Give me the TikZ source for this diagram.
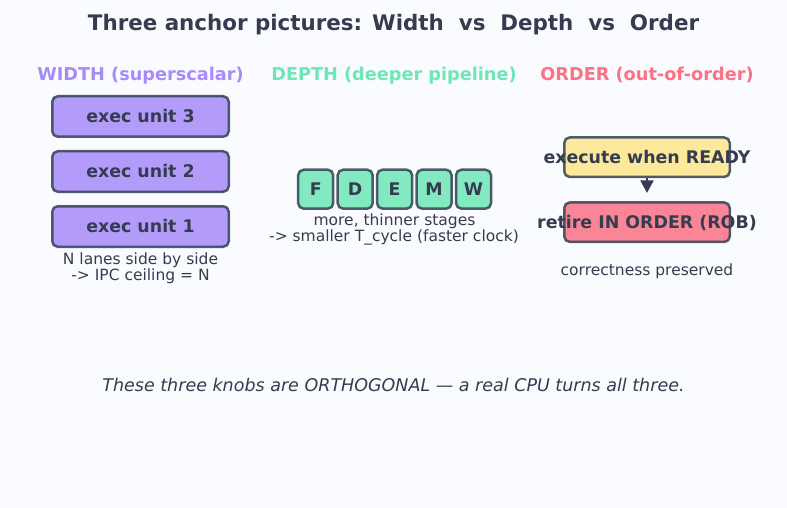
\documentclass[tikz,border=0pt]{standalone}
\usepackage{fontspec}
\setmainfont{DejaVu Sans}
\usetikzlibrary{arrows.meta}

\definecolor{bgc}{HTML}{FAFBFE}
\definecolor{ink}{HTML}{353C4F}
\definecolor{edge}{HTML}{334155}
\definecolor{widthc}{HTML}{A78BFA}
\definecolor{depthc}{HTML}{6EE7B7}
\definecolor{orderc}{HTML}{FB7185}
\definecolor{readyc}{HTML}{FDE68A}

\tikzset{
  x=1pt, y=-1pt,
  % node centre sits at the middle of the capital letters
  capmid/.style={inner sep=0pt, text depth=0pt},
  title/.style={capmid, text height=15.6pt, text=ink, font=\fontsize{21.4}{24}\selectfont\bfseries},
  header/.style={capmid, text height=12.9pt, font=\fontsize{17.7}{20}\selectfont\bfseries},
  caption/.style={capmid, text height=11.3pt, text=ink, font=\fontsize{15.5}{18}\selectfont},
  footer/.style={capmid, text height=12.75pt, text=ink, font=\fontsize{17.5}{20}\selectfont\itshape},
  unitbox/.style={draw=edge, draw opacity=0.85, fill opacity=0.85, line width=2.5pt,
    rounded corners=5.5pt, inner sep=0pt},
  boxlabel/.style={capmid, text height=12.7pt, text=ink, font=\fontsize{17.4}{20}\selectfont\bfseries},
  flowarrow/.style={draw=ink, line width=2pt, -{Triangle[length=12.5pt, width=13pt]}}
}

\begin{document}
\begin{tikzpicture}
  \fill[bgc] (0,0) rectangle (787,508);
  \useasboundingbox (0,0) rectangle (787,508);

  \node[title] (ttl) at (393.5,23) {Three anchor pictures: Width\ \ vs\ \ Depth\ \ vs\ \ Order};

  % column headings
  \node[header, text=widthc] (hw) at (140.5,73.7) {WIDTH (superscalar)};
  \node[header, text=depthc] (hd) at (394,73.7) {DEPTH (deeper pipeline)};
  \node[header, text=orderc] (ho) at (647,73.7) {ORDER (out-of-order)};

  % width: parallel execution units
  \foreach \n/\yc in {3/116.5, 2/171.5, 1/226.5} {
    \node[unitbox, fill=widthc, minimum width=176.5pt, minimum height=40.5pt] (eu\n) at (140.5,\yc) {};
    \node[boxlabel] (eul\n) at (eu\n) {exec unit \n};
  }
  \node[caption] (wc1) at (140.5,258.5) {N lanes side by side};
  \node[caption] (wc2) at (140.5,275.3) {-> IPC ceiling = N};

  % depth: short pipeline stages
  \foreach \s/\xc in {F/315.7, D/355.2, E/394.6, M/434.1, W/473.5} {
    \node[unitbox, fill=depthc, minimum width=35pt, minimum height=39pt] (st\s) at (\xc,189.2) {};
    \node[boxlabel] (stl\s) at (st\s) {\s};
  }
  \node[caption] (dc1) at (394.5,220) {more, thinner stages};
  \node[caption] (dc2) at (394,236.3) {-> smaller T\_cycle (faster clock)};

  % order: execute out of order, retire in order
  \node[unitbox, fill=readyc, minimum width=165.5pt, minimum height=39.5pt] (exe) at (647,157.2) {};
  \node[unitbox, fill=orderc, minimum width=165.5pt, minimum height=39.5pt] (ret) at (647,222.2) {};
  \draw[flowarrow, shorten >=8.3pt] (exe.south) -- (ret.north);
  \node[boxlabel] (exel) at (exe) {execute when READY};
  \node[boxlabel] (retl) at (ret) {retire IN ORDER (ROB)};
  \node[caption] (oc) at (647,269.6) {correctness preserved};

  \node[footer] (ft) at (393.5,385) {These three knobs are ORTHOGONAL — a real CPU turns all three.};
\end{tikzpicture}
\end{document}
